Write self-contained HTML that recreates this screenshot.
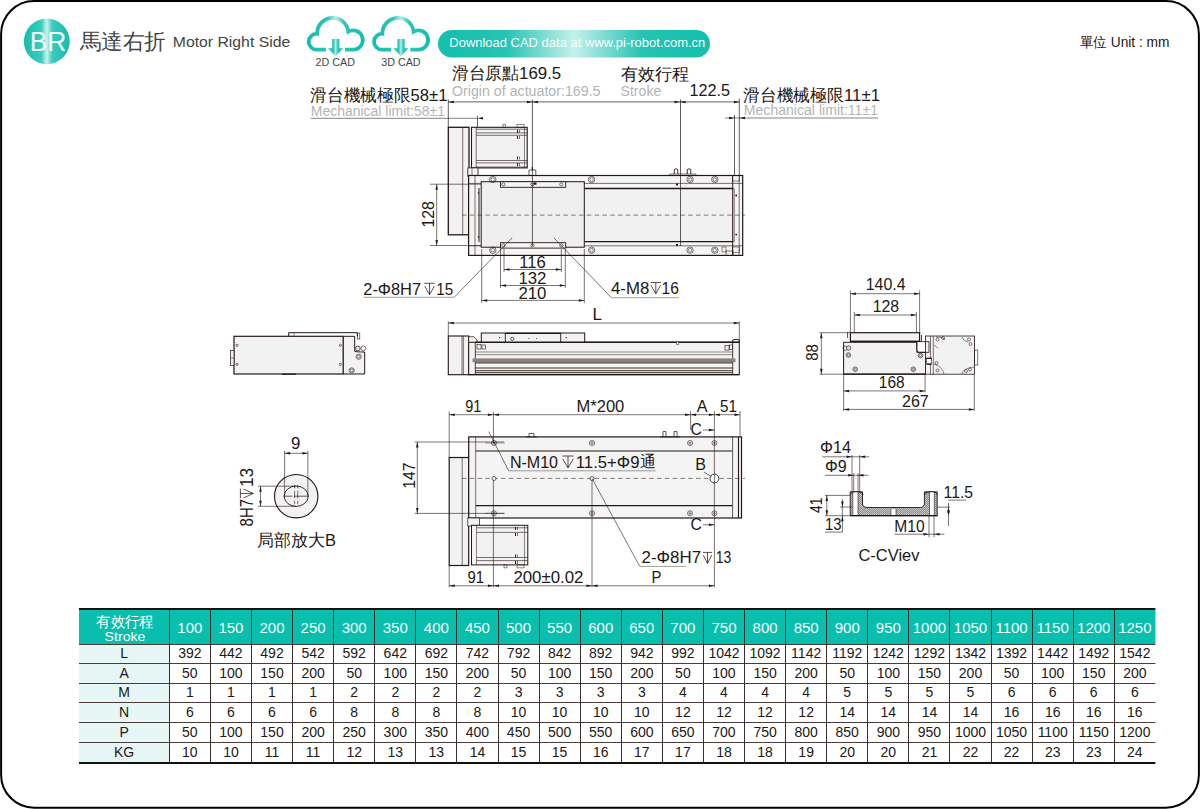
<!DOCTYPE html>
<html><head><meta charset="utf-8"><style>
html,body{margin:0;padding:0;background:#fff;}
body{width:1200px;height:809px;overflow:hidden;position:relative;font-family:"Liberation Sans",sans-serif;}
svg{position:absolute;left:0;top:0;}
</style></head><body>
<svg width="1200" height="809" viewBox="0 0 1200 809">
<defs>
<linearGradient id="tealH" x1="0" y1="0" x2="1" y2="0">
<stop offset="0" stop-color="#12bdac"/><stop offset="0.38" stop-color="#3ccbbd"/><stop offset="0.5" stop-color="#c8f3ee"/><stop offset="0.62" stop-color="#3ccbbd"/><stop offset="1" stop-color="#12bdac"/>
</linearGradient>
<linearGradient id="tealB" x1="0" y1="0" x2="1" y2="0">
<stop offset="0" stop-color="#14bead"/><stop offset="0.35" stop-color="#2cc6b6"/><stop offset="0.5" stop-color="#b8efe8"/><stop offset="0.65" stop-color="#2cc6b6"/><stop offset="1" stop-color="#14bead"/>
</linearGradient>
<linearGradient id="tealP" x1="0" y1="0" x2="1" y2="0">
<stop offset="0" stop-color="#14bead"/><stop offset="0.25" stop-color="#26c3b3"/><stop offset="0.5" stop-color="#c4f1eb"/><stop offset="0.75" stop-color="#26c3b3"/><stop offset="1" stop-color="#14bead"/>
</linearGradient>
<pattern id="hatch" width="2" height="2" patternUnits="userSpaceOnUse"><rect width="2" height="2" fill="#c4c4c4"/><path d="M0,2 L2,0" stroke="#6a6a6a" stroke-width="0.6"/></pattern>
</defs>
<rect x="1.1" y="1.1" width="1197.8" height="806.6" rx="33" ry="33" fill="none" stroke="#000" stroke-width="2.0"/>
<circle cx="46.8" cy="41.4" r="22.9" fill="url(#tealH)"/>
<text x="29.7" y="51.0" font-size="27" fill="#f4fffd" text-anchor="start" font-family="Liberation Sans" font-weight="normal" textLength="36.6" lengthAdjust="spacingAndGlyphs" >BR</text>
<text x="79.5" y="48.6" font-size="21.5" fill="#444" text-anchor="start" font-family="Liberation Sans" font-weight="normal" textLength="86.3" lengthAdjust="spacingAndGlyphs" >馬達右折</text>
<text x="172.8" y="47.2" font-size="13.8" fill="#444" text-anchor="start" font-family="Liberation Sans" font-weight="normal" textLength="117.4" lengthAdjust="spacingAndGlyphs" >Motor Right Side</text>
<g transform="translate(300,10) scale(0.125)">
<path d="M207,317 H133.5 A63.5,63.5 0 1 1 137,190.1 A125,125 0 0 1 386.2,173.5 A77,77 0 1 1 425,317 H360" fill="none" stroke="url(#tealB)" stroke-width="30"/>
<path d="M257,232 H315 V305 H345 L285,370 L225,305 H257 Z" fill="url(#tealB)"/>
</g>
<g transform="translate(365.3,10) scale(0.125)">
<path d="M207,317 H133.5 A63.5,63.5 0 1 1 137,190.1 A125,125 0 0 1 386.2,173.5 A77,77 0 1 1 425,317 H360" fill="none" stroke="url(#tealB)" stroke-width="30"/>
<path d="M257,232 H315 V305 H345 L285,370 L225,305 H257 Z" fill="url(#tealB)"/>
</g>
<text x="315.6" y="65.6" font-size="10" fill="#444" text-anchor="start" font-family="Liberation Sans" font-weight="normal" textLength="39.4" lengthAdjust="spacingAndGlyphs" >2D CAD</text>
<text x="381.2" y="65.6" font-size="10" fill="#444" text-anchor="start" font-family="Liberation Sans" font-weight="normal" textLength="39.4" lengthAdjust="spacingAndGlyphs" >3D CAD</text>
<rect x="438" y="30.0" width="272" height="27.6" rx="13.8" ry="13.8" fill="url(#tealP)"/>
<text x="449.3" y="47.1" font-size="13.3" fill="#f6fffd" text-anchor="start" font-family="Liberation Sans" font-weight="normal" textLength="256" lengthAdjust="spacingAndGlyphs" >Download CAD data at www.pi-robot.com.cn</text>
<text x="1080" y="46.9" font-size="14.3" fill="#231815" text-anchor="start" font-family="Liberation Sans" font-weight="normal" textLength="89.5" lengthAdjust="spacingAndGlyphs" >單位 Unit : mm</text>
<rect x="79.0" y="610" width="1076.4" height="34.10000000000002" fill="#08bfad"/>
<rect x="79.0" y="644.1" width="90.30000000000001" height="118.69999999999993" fill="#e6f6f4"/>
<line x1="79.0" y1="609.0" x2="1155.4" y2="609.0" stroke="#111" stroke-width="2.0" />
<line x1="79.0" y1="644.5" x2="1155.4" y2="644.5" stroke="#4a3c3a" stroke-width="1.0" />
<line x1="79.0" y1="663.5" x2="1155.4" y2="663.5" stroke="#4a3c3a" stroke-width="1.0" />
<line x1="79.0" y1="683.5" x2="1155.4" y2="683.5" stroke="#4a3c3a" stroke-width="1.0" />
<line x1="79.0" y1="702.5" x2="1155.4" y2="702.5" stroke="#4a3c3a" stroke-width="1.0" />
<line x1="79.0" y1="722.5" x2="1155.4" y2="722.5" stroke="#4a3c3a" stroke-width="1.0" />
<line x1="79.0" y1="742.5" x2="1155.4" y2="742.5" stroke="#4a3c3a" stroke-width="1.0" />
<line x1="79.0" y1="763.0" x2="1155.4" y2="763.0" stroke="#111" stroke-width="2.0" />
<line x1="169.5" y1="610" x2="169.5" y2="762.8" stroke="#3a2e2c" stroke-width="1.0" />
<line x1="210.5" y1="610" x2="210.5" y2="762.8" stroke="#3a2e2c" stroke-width="1.0" />
<line x1="251.5" y1="610" x2="251.5" y2="762.8" stroke="#3a2e2c" stroke-width="1.0" />
<line x1="292.5" y1="610" x2="292.5" y2="762.8" stroke="#3a2e2c" stroke-width="1.0" />
<line x1="333.5" y1="610" x2="333.5" y2="762.8" stroke="#3a2e2c" stroke-width="1.0" />
<line x1="374.5" y1="610" x2="374.5" y2="762.8" stroke="#3a2e2c" stroke-width="1.0" />
<line x1="415.5" y1="610" x2="415.5" y2="762.8" stroke="#3a2e2c" stroke-width="1.0" />
<line x1="456.5" y1="610" x2="456.5" y2="762.8" stroke="#3a2e2c" stroke-width="1.0" />
<line x1="498.5" y1="610" x2="498.5" y2="762.8" stroke="#3a2e2c" stroke-width="1.0" />
<line x1="539.5" y1="610" x2="539.5" y2="762.8" stroke="#3a2e2c" stroke-width="1.0" />
<line x1="580.5" y1="610" x2="580.5" y2="762.8" stroke="#3a2e2c" stroke-width="1.0" />
<line x1="621.5" y1="610" x2="621.5" y2="762.8" stroke="#3a2e2c" stroke-width="1.0" />
<line x1="662.5" y1="610" x2="662.5" y2="762.8" stroke="#3a2e2c" stroke-width="1.0" />
<line x1="703.5" y1="610" x2="703.5" y2="762.8" stroke="#3a2e2c" stroke-width="1.0" />
<line x1="744.5" y1="610" x2="744.5" y2="762.8" stroke="#3a2e2c" stroke-width="1.0" />
<line x1="785.5" y1="610" x2="785.5" y2="762.8" stroke="#3a2e2c" stroke-width="1.0" />
<line x1="826.5" y1="610" x2="826.5" y2="762.8" stroke="#3a2e2c" stroke-width="1.0" />
<line x1="867.5" y1="610" x2="867.5" y2="762.8" stroke="#3a2e2c" stroke-width="1.0" />
<line x1="908.5" y1="610" x2="908.5" y2="762.8" stroke="#3a2e2c" stroke-width="1.0" />
<line x1="949.5" y1="610" x2="949.5" y2="762.8" stroke="#3a2e2c" stroke-width="1.0" />
<line x1="991.5" y1="610" x2="991.5" y2="762.8" stroke="#3a2e2c" stroke-width="1.0" />
<line x1="1032.5" y1="610" x2="1032.5" y2="762.8" stroke="#3a2e2c" stroke-width="1.0" />
<line x1="1073.5" y1="610" x2="1073.5" y2="762.8" stroke="#3a2e2c" stroke-width="1.0" />
<line x1="1114.5" y1="610" x2="1114.5" y2="762.8" stroke="#3a2e2c" stroke-width="1.0" />
<text x="96.4" y="626.8" font-size="14.5" fill="#fff" text-anchor="start" font-family="Liberation Sans" font-weight="normal" textLength="57.2" lengthAdjust="spacingAndGlyphs" >有效行程</text>
<text x="104.6" y="641.2" font-size="13.5" fill="#fff" text-anchor="start" font-family="Liberation Sans" font-weight="normal" textLength="40.8" lengthAdjust="spacingAndGlyphs" >Stroke</text>
<text x="189.84" y="632.7" font-size="15" fill="#f4fffd" text-anchor="middle" font-family="Liberation Sans" font-weight="normal" >100</text>
<text x="230.93" y="632.7" font-size="15" fill="#f4fffd" text-anchor="middle" font-family="Liberation Sans" font-weight="normal" >150</text>
<text x="272.02" y="632.7" font-size="15" fill="#f4fffd" text-anchor="middle" font-family="Liberation Sans" font-weight="normal" >200</text>
<text x="313.11" y="632.7" font-size="15" fill="#f4fffd" text-anchor="middle" font-family="Liberation Sans" font-weight="normal" >250</text>
<text x="354.19" y="632.7" font-size="15" fill="#f4fffd" text-anchor="middle" font-family="Liberation Sans" font-weight="normal" >300</text>
<text x="395.28" y="632.7" font-size="15" fill="#f4fffd" text-anchor="middle" font-family="Liberation Sans" font-weight="normal" >350</text>
<text x="436.37" y="632.7" font-size="15" fill="#f4fffd" text-anchor="middle" font-family="Liberation Sans" font-weight="normal" >400</text>
<text x="477.46" y="632.7" font-size="15" fill="#f4fffd" text-anchor="middle" font-family="Liberation Sans" font-weight="normal" >450</text>
<text x="518.54" y="632.7" font-size="15" fill="#f4fffd" text-anchor="middle" font-family="Liberation Sans" font-weight="normal" >500</text>
<text x="559.63" y="632.7" font-size="15" fill="#f4fffd" text-anchor="middle" font-family="Liberation Sans" font-weight="normal" >550</text>
<text x="600.72" y="632.7" font-size="15" fill="#f4fffd" text-anchor="middle" font-family="Liberation Sans" font-weight="normal" >600</text>
<text x="641.81" y="632.7" font-size="15" fill="#f4fffd" text-anchor="middle" font-family="Liberation Sans" font-weight="normal" >650</text>
<text x="682.89" y="632.7" font-size="15" fill="#f4fffd" text-anchor="middle" font-family="Liberation Sans" font-weight="normal" >700</text>
<text x="723.98" y="632.7" font-size="15" fill="#f4fffd" text-anchor="middle" font-family="Liberation Sans" font-weight="normal" >750</text>
<text x="765.07" y="632.7" font-size="15" fill="#f4fffd" text-anchor="middle" font-family="Liberation Sans" font-weight="normal" >800</text>
<text x="806.16" y="632.7" font-size="15" fill="#f4fffd" text-anchor="middle" font-family="Liberation Sans" font-weight="normal" >850</text>
<text x="847.24" y="632.7" font-size="15" fill="#f4fffd" text-anchor="middle" font-family="Liberation Sans" font-weight="normal" >900</text>
<text x="888.33" y="632.7" font-size="15" fill="#f4fffd" text-anchor="middle" font-family="Liberation Sans" font-weight="normal" >950</text>
<text x="929.42" y="632.7" font-size="15" fill="#f4fffd" text-anchor="middle" font-family="Liberation Sans" font-weight="normal" >1000</text>
<text x="970.51" y="632.7" font-size="15" fill="#f4fffd" text-anchor="middle" font-family="Liberation Sans" font-weight="normal" >1050</text>
<text x="1011.59" y="632.7" font-size="15" fill="#f4fffd" text-anchor="middle" font-family="Liberation Sans" font-weight="normal" >1100</text>
<text x="1052.68" y="632.7" font-size="15" fill="#f4fffd" text-anchor="middle" font-family="Liberation Sans" font-weight="normal" >1150</text>
<text x="1093.77" y="632.7" font-size="15" fill="#f4fffd" text-anchor="middle" font-family="Liberation Sans" font-weight="normal" >1200</text>
<text x="1134.86" y="632.7" font-size="15" fill="#f4fffd" text-anchor="middle" font-family="Liberation Sans" font-weight="normal" >1250</text>
<text x="124.15" y="658.1" font-size="14" fill="#231815" text-anchor="middle" font-family="Liberation Sans" font-weight="normal" >L</text>
<text x="189.84" y="658.1" font-size="14" fill="#231815" text-anchor="middle" font-family="Liberation Sans" font-weight="normal" >392</text>
<text x="230.93" y="658.1" font-size="14" fill="#231815" text-anchor="middle" font-family="Liberation Sans" font-weight="normal" >442</text>
<text x="272.02" y="658.1" font-size="14" fill="#231815" text-anchor="middle" font-family="Liberation Sans" font-weight="normal" >492</text>
<text x="313.11" y="658.1" font-size="14" fill="#231815" text-anchor="middle" font-family="Liberation Sans" font-weight="normal" >542</text>
<text x="354.19" y="658.1" font-size="14" fill="#231815" text-anchor="middle" font-family="Liberation Sans" font-weight="normal" >592</text>
<text x="395.28" y="658.1" font-size="14" fill="#231815" text-anchor="middle" font-family="Liberation Sans" font-weight="normal" >642</text>
<text x="436.37" y="658.1" font-size="14" fill="#231815" text-anchor="middle" font-family="Liberation Sans" font-weight="normal" >692</text>
<text x="477.46" y="658.1" font-size="14" fill="#231815" text-anchor="middle" font-family="Liberation Sans" font-weight="normal" >742</text>
<text x="518.54" y="658.1" font-size="14" fill="#231815" text-anchor="middle" font-family="Liberation Sans" font-weight="normal" >792</text>
<text x="559.63" y="658.1" font-size="14" fill="#231815" text-anchor="middle" font-family="Liberation Sans" font-weight="normal" >842</text>
<text x="600.72" y="658.1" font-size="14" fill="#231815" text-anchor="middle" font-family="Liberation Sans" font-weight="normal" >892</text>
<text x="641.81" y="658.1" font-size="14" fill="#231815" text-anchor="middle" font-family="Liberation Sans" font-weight="normal" >942</text>
<text x="682.89" y="658.1" font-size="14" fill="#231815" text-anchor="middle" font-family="Liberation Sans" font-weight="normal" >992</text>
<text x="723.98" y="658.1" font-size="14" fill="#231815" text-anchor="middle" font-family="Liberation Sans" font-weight="normal" >1042</text>
<text x="765.07" y="658.1" font-size="14" fill="#231815" text-anchor="middle" font-family="Liberation Sans" font-weight="normal" >1092</text>
<text x="806.16" y="658.1" font-size="14" fill="#231815" text-anchor="middle" font-family="Liberation Sans" font-weight="normal" >1142</text>
<text x="847.24" y="658.1" font-size="14" fill="#231815" text-anchor="middle" font-family="Liberation Sans" font-weight="normal" >1192</text>
<text x="888.33" y="658.1" font-size="14" fill="#231815" text-anchor="middle" font-family="Liberation Sans" font-weight="normal" >1242</text>
<text x="929.42" y="658.1" font-size="14" fill="#231815" text-anchor="middle" font-family="Liberation Sans" font-weight="normal" >1292</text>
<text x="970.51" y="658.1" font-size="14" fill="#231815" text-anchor="middle" font-family="Liberation Sans" font-weight="normal" >1342</text>
<text x="1011.59" y="658.1" font-size="14" fill="#231815" text-anchor="middle" font-family="Liberation Sans" font-weight="normal" >1392</text>
<text x="1052.68" y="658.1" font-size="14" fill="#231815" text-anchor="middle" font-family="Liberation Sans" font-weight="normal" >1442</text>
<text x="1093.77" y="658.1" font-size="14" fill="#231815" text-anchor="middle" font-family="Liberation Sans" font-weight="normal" >1492</text>
<text x="1134.86" y="658.1" font-size="14" fill="#231815" text-anchor="middle" font-family="Liberation Sans" font-weight="normal" >1542</text>
<text x="124.15" y="677.7" font-size="14" fill="#231815" text-anchor="middle" font-family="Liberation Sans" font-weight="normal" >A</text>
<text x="189.84" y="677.7" font-size="14" fill="#231815" text-anchor="middle" font-family="Liberation Sans" font-weight="normal" >50</text>
<text x="230.93" y="677.7" font-size="14" fill="#231815" text-anchor="middle" font-family="Liberation Sans" font-weight="normal" >100</text>
<text x="272.02" y="677.7" font-size="14" fill="#231815" text-anchor="middle" font-family="Liberation Sans" font-weight="normal" >150</text>
<text x="313.11" y="677.7" font-size="14" fill="#231815" text-anchor="middle" font-family="Liberation Sans" font-weight="normal" >200</text>
<text x="354.19" y="677.7" font-size="14" fill="#231815" text-anchor="middle" font-family="Liberation Sans" font-weight="normal" >50</text>
<text x="395.28" y="677.7" font-size="14" fill="#231815" text-anchor="middle" font-family="Liberation Sans" font-weight="normal" >100</text>
<text x="436.37" y="677.7" font-size="14" fill="#231815" text-anchor="middle" font-family="Liberation Sans" font-weight="normal" >150</text>
<text x="477.46" y="677.7" font-size="14" fill="#231815" text-anchor="middle" font-family="Liberation Sans" font-weight="normal" >200</text>
<text x="518.54" y="677.7" font-size="14" fill="#231815" text-anchor="middle" font-family="Liberation Sans" font-weight="normal" >50</text>
<text x="559.63" y="677.7" font-size="14" fill="#231815" text-anchor="middle" font-family="Liberation Sans" font-weight="normal" >100</text>
<text x="600.72" y="677.7" font-size="14" fill="#231815" text-anchor="middle" font-family="Liberation Sans" font-weight="normal" >150</text>
<text x="641.81" y="677.7" font-size="14" fill="#231815" text-anchor="middle" font-family="Liberation Sans" font-weight="normal" >200</text>
<text x="682.89" y="677.7" font-size="14" fill="#231815" text-anchor="middle" font-family="Liberation Sans" font-weight="normal" >50</text>
<text x="723.98" y="677.7" font-size="14" fill="#231815" text-anchor="middle" font-family="Liberation Sans" font-weight="normal" >100</text>
<text x="765.07" y="677.7" font-size="14" fill="#231815" text-anchor="middle" font-family="Liberation Sans" font-weight="normal" >150</text>
<text x="806.16" y="677.7" font-size="14" fill="#231815" text-anchor="middle" font-family="Liberation Sans" font-weight="normal" >200</text>
<text x="847.24" y="677.7" font-size="14" fill="#231815" text-anchor="middle" font-family="Liberation Sans" font-weight="normal" >50</text>
<text x="888.33" y="677.7" font-size="14" fill="#231815" text-anchor="middle" font-family="Liberation Sans" font-weight="normal" >100</text>
<text x="929.42" y="677.7" font-size="14" fill="#231815" text-anchor="middle" font-family="Liberation Sans" font-weight="normal" >150</text>
<text x="970.51" y="677.7" font-size="14" fill="#231815" text-anchor="middle" font-family="Liberation Sans" font-weight="normal" >200</text>
<text x="1011.59" y="677.7" font-size="14" fill="#231815" text-anchor="middle" font-family="Liberation Sans" font-weight="normal" >50</text>
<text x="1052.68" y="677.7" font-size="14" fill="#231815" text-anchor="middle" font-family="Liberation Sans" font-weight="normal" >100</text>
<text x="1093.77" y="677.7" font-size="14" fill="#231815" text-anchor="middle" font-family="Liberation Sans" font-weight="normal" >150</text>
<text x="1134.86" y="677.7" font-size="14" fill="#231815" text-anchor="middle" font-family="Liberation Sans" font-weight="normal" >200</text>
<text x="124.15" y="697.4" font-size="14" fill="#231815" text-anchor="middle" font-family="Liberation Sans" font-weight="normal" >M</text>
<text x="189.84" y="697.4" font-size="14" fill="#231815" text-anchor="middle" font-family="Liberation Sans" font-weight="normal" >1</text>
<text x="230.93" y="697.4" font-size="14" fill="#231815" text-anchor="middle" font-family="Liberation Sans" font-weight="normal" >1</text>
<text x="272.02" y="697.4" font-size="14" fill="#231815" text-anchor="middle" font-family="Liberation Sans" font-weight="normal" >1</text>
<text x="313.11" y="697.4" font-size="14" fill="#231815" text-anchor="middle" font-family="Liberation Sans" font-weight="normal" >1</text>
<text x="354.19" y="697.4" font-size="14" fill="#231815" text-anchor="middle" font-family="Liberation Sans" font-weight="normal" >2</text>
<text x="395.28" y="697.4" font-size="14" fill="#231815" text-anchor="middle" font-family="Liberation Sans" font-weight="normal" >2</text>
<text x="436.37" y="697.4" font-size="14" fill="#231815" text-anchor="middle" font-family="Liberation Sans" font-weight="normal" >2</text>
<text x="477.46" y="697.4" font-size="14" fill="#231815" text-anchor="middle" font-family="Liberation Sans" font-weight="normal" >2</text>
<text x="518.54" y="697.4" font-size="14" fill="#231815" text-anchor="middle" font-family="Liberation Sans" font-weight="normal" >3</text>
<text x="559.63" y="697.4" font-size="14" fill="#231815" text-anchor="middle" font-family="Liberation Sans" font-weight="normal" >3</text>
<text x="600.72" y="697.4" font-size="14" fill="#231815" text-anchor="middle" font-family="Liberation Sans" font-weight="normal" >3</text>
<text x="641.81" y="697.4" font-size="14" fill="#231815" text-anchor="middle" font-family="Liberation Sans" font-weight="normal" >3</text>
<text x="682.89" y="697.4" font-size="14" fill="#231815" text-anchor="middle" font-family="Liberation Sans" font-weight="normal" >4</text>
<text x="723.98" y="697.4" font-size="14" fill="#231815" text-anchor="middle" font-family="Liberation Sans" font-weight="normal" >4</text>
<text x="765.07" y="697.4" font-size="14" fill="#231815" text-anchor="middle" font-family="Liberation Sans" font-weight="normal" >4</text>
<text x="806.16" y="697.4" font-size="14" fill="#231815" text-anchor="middle" font-family="Liberation Sans" font-weight="normal" >4</text>
<text x="847.24" y="697.4" font-size="14" fill="#231815" text-anchor="middle" font-family="Liberation Sans" font-weight="normal" >5</text>
<text x="888.33" y="697.4" font-size="14" fill="#231815" text-anchor="middle" font-family="Liberation Sans" font-weight="normal" >5</text>
<text x="929.42" y="697.4" font-size="14" fill="#231815" text-anchor="middle" font-family="Liberation Sans" font-weight="normal" >5</text>
<text x="970.51" y="697.4" font-size="14" fill="#231815" text-anchor="middle" font-family="Liberation Sans" font-weight="normal" >5</text>
<text x="1011.59" y="697.4" font-size="14" fill="#231815" text-anchor="middle" font-family="Liberation Sans" font-weight="normal" >6</text>
<text x="1052.68" y="697.4" font-size="14" fill="#231815" text-anchor="middle" font-family="Liberation Sans" font-weight="normal" >6</text>
<text x="1093.77" y="697.4" font-size="14" fill="#231815" text-anchor="middle" font-family="Liberation Sans" font-weight="normal" >6</text>
<text x="1134.86" y="697.4" font-size="14" fill="#231815" text-anchor="middle" font-family="Liberation Sans" font-weight="normal" >6</text>
<text x="124.15" y="716.9" font-size="14" fill="#231815" text-anchor="middle" font-family="Liberation Sans" font-weight="normal" >N</text>
<text x="189.84" y="716.9" font-size="14" fill="#231815" text-anchor="middle" font-family="Liberation Sans" font-weight="normal" >6</text>
<text x="230.93" y="716.9" font-size="14" fill="#231815" text-anchor="middle" font-family="Liberation Sans" font-weight="normal" >6</text>
<text x="272.02" y="716.9" font-size="14" fill="#231815" text-anchor="middle" font-family="Liberation Sans" font-weight="normal" >6</text>
<text x="313.11" y="716.9" font-size="14" fill="#231815" text-anchor="middle" font-family="Liberation Sans" font-weight="normal" >6</text>
<text x="354.19" y="716.9" font-size="14" fill="#231815" text-anchor="middle" font-family="Liberation Sans" font-weight="normal" >8</text>
<text x="395.28" y="716.9" font-size="14" fill="#231815" text-anchor="middle" font-family="Liberation Sans" font-weight="normal" >8</text>
<text x="436.37" y="716.9" font-size="14" fill="#231815" text-anchor="middle" font-family="Liberation Sans" font-weight="normal" >8</text>
<text x="477.46" y="716.9" font-size="14" fill="#231815" text-anchor="middle" font-family="Liberation Sans" font-weight="normal" >8</text>
<text x="518.54" y="716.9" font-size="14" fill="#231815" text-anchor="middle" font-family="Liberation Sans" font-weight="normal" >10</text>
<text x="559.63" y="716.9" font-size="14" fill="#231815" text-anchor="middle" font-family="Liberation Sans" font-weight="normal" >10</text>
<text x="600.72" y="716.9" font-size="14" fill="#231815" text-anchor="middle" font-family="Liberation Sans" font-weight="normal" >10</text>
<text x="641.81" y="716.9" font-size="14" fill="#231815" text-anchor="middle" font-family="Liberation Sans" font-weight="normal" >10</text>
<text x="682.89" y="716.9" font-size="14" fill="#231815" text-anchor="middle" font-family="Liberation Sans" font-weight="normal" >12</text>
<text x="723.98" y="716.9" font-size="14" fill="#231815" text-anchor="middle" font-family="Liberation Sans" font-weight="normal" >12</text>
<text x="765.07" y="716.9" font-size="14" fill="#231815" text-anchor="middle" font-family="Liberation Sans" font-weight="normal" >12</text>
<text x="806.16" y="716.9" font-size="14" fill="#231815" text-anchor="middle" font-family="Liberation Sans" font-weight="normal" >12</text>
<text x="847.24" y="716.9" font-size="14" fill="#231815" text-anchor="middle" font-family="Liberation Sans" font-weight="normal" >14</text>
<text x="888.33" y="716.9" font-size="14" fill="#231815" text-anchor="middle" font-family="Liberation Sans" font-weight="normal" >14</text>
<text x="929.42" y="716.9" font-size="14" fill="#231815" text-anchor="middle" font-family="Liberation Sans" font-weight="normal" >14</text>
<text x="970.51" y="716.9" font-size="14" fill="#231815" text-anchor="middle" font-family="Liberation Sans" font-weight="normal" >14</text>
<text x="1011.59" y="716.9" font-size="14" fill="#231815" text-anchor="middle" font-family="Liberation Sans" font-weight="normal" >16</text>
<text x="1052.68" y="716.9" font-size="14" fill="#231815" text-anchor="middle" font-family="Liberation Sans" font-weight="normal" >16</text>
<text x="1093.77" y="716.9" font-size="14" fill="#231815" text-anchor="middle" font-family="Liberation Sans" font-weight="normal" >16</text>
<text x="1134.86" y="716.9" font-size="14" fill="#231815" text-anchor="middle" font-family="Liberation Sans" font-weight="normal" >16</text>
<text x="124.15" y="736.9" font-size="14" fill="#231815" text-anchor="middle" font-family="Liberation Sans" font-weight="normal" >P</text>
<text x="189.84" y="736.9" font-size="14" fill="#231815" text-anchor="middle" font-family="Liberation Sans" font-weight="normal" >50</text>
<text x="230.93" y="736.9" font-size="14" fill="#231815" text-anchor="middle" font-family="Liberation Sans" font-weight="normal" >100</text>
<text x="272.02" y="736.9" font-size="14" fill="#231815" text-anchor="middle" font-family="Liberation Sans" font-weight="normal" >150</text>
<text x="313.11" y="736.9" font-size="14" fill="#231815" text-anchor="middle" font-family="Liberation Sans" font-weight="normal" >200</text>
<text x="354.19" y="736.9" font-size="14" fill="#231815" text-anchor="middle" font-family="Liberation Sans" font-weight="normal" >250</text>
<text x="395.28" y="736.9" font-size="14" fill="#231815" text-anchor="middle" font-family="Liberation Sans" font-weight="normal" >300</text>
<text x="436.37" y="736.9" font-size="14" fill="#231815" text-anchor="middle" font-family="Liberation Sans" font-weight="normal" >350</text>
<text x="477.46" y="736.9" font-size="14" fill="#231815" text-anchor="middle" font-family="Liberation Sans" font-weight="normal" >400</text>
<text x="518.54" y="736.9" font-size="14" fill="#231815" text-anchor="middle" font-family="Liberation Sans" font-weight="normal" >450</text>
<text x="559.63" y="736.9" font-size="14" fill="#231815" text-anchor="middle" font-family="Liberation Sans" font-weight="normal" >500</text>
<text x="600.72" y="736.9" font-size="14" fill="#231815" text-anchor="middle" font-family="Liberation Sans" font-weight="normal" >550</text>
<text x="641.81" y="736.9" font-size="14" fill="#231815" text-anchor="middle" font-family="Liberation Sans" font-weight="normal" >600</text>
<text x="682.89" y="736.9" font-size="14" fill="#231815" text-anchor="middle" font-family="Liberation Sans" font-weight="normal" >650</text>
<text x="723.98" y="736.9" font-size="14" fill="#231815" text-anchor="middle" font-family="Liberation Sans" font-weight="normal" >700</text>
<text x="765.07" y="736.9" font-size="14" fill="#231815" text-anchor="middle" font-family="Liberation Sans" font-weight="normal" >750</text>
<text x="806.16" y="736.9" font-size="14" fill="#231815" text-anchor="middle" font-family="Liberation Sans" font-weight="normal" >800</text>
<text x="847.24" y="736.9" font-size="14" fill="#231815" text-anchor="middle" font-family="Liberation Sans" font-weight="normal" >850</text>
<text x="888.33" y="736.9" font-size="14" fill="#231815" text-anchor="middle" font-family="Liberation Sans" font-weight="normal" >900</text>
<text x="929.42" y="736.9" font-size="14" fill="#231815" text-anchor="middle" font-family="Liberation Sans" font-weight="normal" >950</text>
<text x="970.51" y="736.9" font-size="14" fill="#231815" text-anchor="middle" font-family="Liberation Sans" font-weight="normal" >1000</text>
<text x="1011.59" y="736.9" font-size="14" fill="#231815" text-anchor="middle" font-family="Liberation Sans" font-weight="normal" >1050</text>
<text x="1052.68" y="736.9" font-size="14" fill="#231815" text-anchor="middle" font-family="Liberation Sans" font-weight="normal" >1100</text>
<text x="1093.77" y="736.9" font-size="14" fill="#231815" text-anchor="middle" font-family="Liberation Sans" font-weight="normal" >1150</text>
<text x="1134.86" y="736.9" font-size="14" fill="#231815" text-anchor="middle" font-family="Liberation Sans" font-weight="normal" >1200</text>
<text x="124.15" y="756.9" font-size="14" fill="#231815" text-anchor="middle" font-family="Liberation Sans" font-weight="normal" >KG</text>
<text x="189.84" y="756.9" font-size="14" fill="#231815" text-anchor="middle" font-family="Liberation Sans" font-weight="normal" >10</text>
<text x="230.93" y="756.9" font-size="14" fill="#231815" text-anchor="middle" font-family="Liberation Sans" font-weight="normal" >10</text>
<text x="272.02" y="756.9" font-size="14" fill="#231815" text-anchor="middle" font-family="Liberation Sans" font-weight="normal" >11</text>
<text x="313.11" y="756.9" font-size="14" fill="#231815" text-anchor="middle" font-family="Liberation Sans" font-weight="normal" >11</text>
<text x="354.19" y="756.9" font-size="14" fill="#231815" text-anchor="middle" font-family="Liberation Sans" font-weight="normal" >12</text>
<text x="395.28" y="756.9" font-size="14" fill="#231815" text-anchor="middle" font-family="Liberation Sans" font-weight="normal" >13</text>
<text x="436.37" y="756.9" font-size="14" fill="#231815" text-anchor="middle" font-family="Liberation Sans" font-weight="normal" >13</text>
<text x="477.46" y="756.9" font-size="14" fill="#231815" text-anchor="middle" font-family="Liberation Sans" font-weight="normal" >14</text>
<text x="518.54" y="756.9" font-size="14" fill="#231815" text-anchor="middle" font-family="Liberation Sans" font-weight="normal" >15</text>
<text x="559.63" y="756.9" font-size="14" fill="#231815" text-anchor="middle" font-family="Liberation Sans" font-weight="normal" >15</text>
<text x="600.72" y="756.9" font-size="14" fill="#231815" text-anchor="middle" font-family="Liberation Sans" font-weight="normal" >16</text>
<text x="641.81" y="756.9" font-size="14" fill="#231815" text-anchor="middle" font-family="Liberation Sans" font-weight="normal" >17</text>
<text x="682.89" y="756.9" font-size="14" fill="#231815" text-anchor="middle" font-family="Liberation Sans" font-weight="normal" >17</text>
<text x="723.98" y="756.9" font-size="14" fill="#231815" text-anchor="middle" font-family="Liberation Sans" font-weight="normal" >18</text>
<text x="765.07" y="756.9" font-size="14" fill="#231815" text-anchor="middle" font-family="Liberation Sans" font-weight="normal" >18</text>
<text x="806.16" y="756.9" font-size="14" fill="#231815" text-anchor="middle" font-family="Liberation Sans" font-weight="normal" >19</text>
<text x="847.24" y="756.9" font-size="14" fill="#231815" text-anchor="middle" font-family="Liberation Sans" font-weight="normal" >20</text>
<text x="888.33" y="756.9" font-size="14" fill="#231815" text-anchor="middle" font-family="Liberation Sans" font-weight="normal" >20</text>
<text x="929.42" y="756.9" font-size="14" fill="#231815" text-anchor="middle" font-family="Liberation Sans" font-weight="normal" >21</text>
<text x="970.51" y="756.9" font-size="14" fill="#231815" text-anchor="middle" font-family="Liberation Sans" font-weight="normal" >22</text>
<text x="1011.59" y="756.9" font-size="14" fill="#231815" text-anchor="middle" font-family="Liberation Sans" font-weight="normal" >22</text>
<text x="1052.68" y="756.9" font-size="14" fill="#231815" text-anchor="middle" font-family="Liberation Sans" font-weight="normal" >23</text>
<text x="1093.77" y="756.9" font-size="14" fill="#231815" text-anchor="middle" font-family="Liberation Sans" font-weight="normal" >23</text>
<text x="1134.86" y="756.9" font-size="14" fill="#231815" text-anchor="middle" font-family="Liberation Sans" font-weight="normal" >24</text>
<text x="310.3" y="101.1" font-size="17" fill="#231815" text-anchor="start" font-family="Liberation Sans" font-weight="normal" textLength="137.2" lengthAdjust="spacingAndGlyphs" >滑台機械極限58±1</text>
<text x="310.8" y="115.8" font-size="13.8" fill="#b4b4b4" text-anchor="start" font-family="Liberation Sans" font-weight="normal" textLength="134.2" lengthAdjust="spacingAndGlyphs" >Mechanical limit:58±1</text>
<line x1="310.8" y1="118.3" x2="477.5" y2="118.3" stroke="#666" stroke-width="0.8" />
<text x="451.7" y="78.6" font-size="17" fill="#231815" text-anchor="start" font-family="Liberation Sans" font-weight="normal" textLength="109.5" lengthAdjust="spacingAndGlyphs" >滑台原點169.5</text>
<text x="452" y="95.8" font-size="13.8" fill="#b4b4b4" text-anchor="start" font-family="Liberation Sans" font-weight="normal" textLength="148.5" lengthAdjust="spacingAndGlyphs" >Origin of actuator:169.5</text>
<text x="620.5" y="79.6" font-size="17" fill="#231815" text-anchor="start" font-family="Liberation Sans" font-weight="normal" textLength="68.3" lengthAdjust="spacingAndGlyphs" >有效行程</text>
<text x="620.5" y="95.5" font-size="13.8" fill="#b4b4b4" text-anchor="start" font-family="Liberation Sans" font-weight="normal" textLength="40.8" lengthAdjust="spacingAndGlyphs" >Stroke</text>
<text x="689.5" y="95.75" font-size="16" fill="#231815" text-anchor="start" font-family="Liberation Sans" font-weight="normal" textLength="40.5" lengthAdjust="spacingAndGlyphs" >122.5</text>
<text x="743" y="100.9" font-size="17" fill="#231815" text-anchor="start" font-family="Liberation Sans" font-weight="normal" textLength="137" lengthAdjust="spacingAndGlyphs" >滑台機械極限11±1</text>
<text x="743.8" y="114.5" font-size="13.8" fill="#b4b4b4" text-anchor="start" font-family="Liberation Sans" font-weight="normal" textLength="134.2" lengthAdjust="spacingAndGlyphs" >Mechanical limit:11±1</text>
<line x1="725" y1="118.0" x2="878" y2="118.0" stroke="#666" stroke-width="0.8" />
<line x1="448.3" y1="101.9" x2="739.5" y2="101.9" stroke="#231815" stroke-width="0.7" />
<polygon points="448.3,101.9 453.8,100.65 453.8,103.15" fill="#231815"/>
<polygon points="532.4,101.9 526.9,100.65 526.9,103.15" fill="#231815"/>
<polygon points="532.4,101.9 537.9,100.65 537.9,103.15" fill="#231815"/>
<polygon points="680,101.9 674.5,100.65 674.5,103.15" fill="#231815"/>
<polygon points="680,101.9 685.5,100.65 685.5,103.15" fill="#231815"/>
<polygon points="739.5,101.9 734.0,100.65 734.0,103.15" fill="#231815"/>
<polygon points="477.5,118.3 483.0,117.05 483.0,119.55" fill="#231815"/>
<polygon points="734.5,118.0 729.0,116.75 729.0,119.25" fill="#231815"/>
<polygon points="739.5,118.0 745.0,116.75 745.0,119.25" fill="#231815"/>
<line x1="448.3" y1="99.5" x2="448.3" y2="127.3" stroke="#231815" stroke-width="0.7" />
<line x1="739.3" y1="98.5" x2="739.3" y2="175.5" stroke="#231815" stroke-width="0.7" />
<line x1="734.5" y1="115" x2="734.5" y2="175.5" stroke="#231815" stroke-width="0.7" />
<line x1="477.5" y1="115.8" x2="477.5" y2="127.3" stroke="#231815" stroke-width="0.7" />
<rect x="448.3" y="127.3" width="20.7" height="107.5" fill="#f2f2f2" stroke="#231815" stroke-width="1.3" />
<line x1="462.7" y1="127.3" x2="462.7" y2="234.8" stroke="#231815" stroke-width="0.6" />
<rect x="471.5" y="127.3" width="55.7" height="40.6" fill="#f2f2f2" stroke="#231815" stroke-width="1.1" />
<line x1="476.2" y1="127.3" x2="476.2" y2="167.9" stroke="#231815" stroke-width="0.6" />
<line x1="476.2" y1="129.2" x2="527.2" y2="129.2" stroke="#231815" stroke-width="0.6" />
<line x1="476.2" y1="132.9" x2="527.2" y2="132.9" stroke="#231815" stroke-width="0.6" />
<line x1="476.2" y1="135.3" x2="527.2" y2="135.3" stroke="#231815" stroke-width="0.6" />
<line x1="476.2" y1="160.5" x2="527.2" y2="160.5" stroke="#231815" stroke-width="0.6" />
<line x1="476.2" y1="162.9" x2="527.2" y2="162.9" stroke="#231815" stroke-width="0.6" />
<line x1="476.2" y1="167.0" x2="527.2" y2="167.0" stroke="#231815" stroke-width="0.6" />
<line x1="524.5" y1="127.3" x2="524.5" y2="167.9" stroke="#231815" stroke-width="0.5" />
<line x1="517.5" y1="130.0" x2="517.5" y2="133.0" stroke="#231815" stroke-width="1.0" />
<line x1="519.5" y1="130.0" x2="519.5" y2="133.0" stroke="#231815" stroke-width="0.6" />
<line x1="517.5" y1="136.0" x2="517.5" y2="139.0" stroke="#231815" stroke-width="1.0" />
<line x1="519.5" y1="136.0" x2="519.5" y2="139.0" stroke="#231815" stroke-width="0.6" />
<line x1="517.5" y1="156.5" x2="517.5" y2="159.5" stroke="#231815" stroke-width="1.0" />
<line x1="519.5" y1="156.5" x2="519.5" y2="159.5" stroke="#231815" stroke-width="0.6" />
<line x1="517.5" y1="163.0" x2="517.5" y2="166.0" stroke="#231815" stroke-width="1.0" />
<line x1="519.5" y1="163.0" x2="519.5" y2="166.0" stroke="#231815" stroke-width="0.6" />
<rect x="503" y="124.2" width="2.5" height="3.1" fill="none" stroke="#231815" stroke-width="0.5" />
<rect x="517" y="124.2" width="7" height="3.1" fill="none" stroke="#231815" stroke-width="0.5" />
<rect x="467.8" y="167.9" width="10.2" height="8.3" fill="#f2f2f2" stroke="#231815" stroke-width="0.8" />
<line x1="472" y1="167.9" x2="472" y2="176.2" stroke="#231815" stroke-width="0.5" />
<rect x="468.6" y="175.5" width="274.1" height="79.9" fill="#f5f5f5" stroke="#231815" stroke-width="1.2" />
<rect x="584.3" y="188.5" width="149.2" height="53.2" fill="#f1f1f1" stroke="#231815" stroke-width="0" />
<line x1="475.0" y1="175.5" x2="475.0" y2="255.4" stroke="#231815" stroke-width="0.6" />
<line x1="468.6" y1="183.4" x2="742.7" y2="183.4" stroke="#231815" stroke-width="0.6" />
<line x1="468.6" y1="245.8" x2="742.7" y2="245.8" stroke="#231815" stroke-width="0.6" />
<line x1="584.3" y1="188.5" x2="733.5" y2="188.5" stroke="#231815" stroke-width="1.3" />
<line x1="584.3" y1="241.7" x2="733.5" y2="241.7" stroke="#231815" stroke-width="1.3" />
<line x1="732.7" y1="175.5" x2="732.7" y2="255.4" stroke="#231815" stroke-width="1.0" />
<line x1="739.2" y1="175.5" x2="739.2" y2="255.4" stroke="#231815" stroke-width="0.6" />
<line x1="734.2" y1="188.5" x2="734.2" y2="241.7" stroke="#231815" stroke-width="0.6" />
<rect x="732.7" y="175.5" width="6.5" height="5.5" fill="none" stroke="#231815" stroke-width="0.5" />
<rect x="732.7" y="247" width="6.5" height="5.5" fill="none" stroke="#231815" stroke-width="0.5" />
<rect x="481.2" y="181.7" width="103.1" height="65.5" fill="#efefef" stroke="#231815" stroke-width="1.0" />
<rect x="500.5" y="181.7" width="65.2" height="5.6" fill="#f5f5f5" stroke="#231815" stroke-width="0.9" />
<rect x="500.5" y="242.7" width="65.2" height="5.4" fill="#f5f5f5" stroke="#231815" stroke-width="0.9" />
<circle cx="503.4" cy="184.4" r="1.6" fill="none" stroke="#231815" stroke-width="0.6"/>
<circle cx="503.4" cy="245.4" r="1.6" fill="none" stroke="#231815" stroke-width="0.6"/>
<circle cx="532.4" cy="184.4" r="1.6" fill="none" stroke="#231815" stroke-width="0.6"/>
<circle cx="532.4" cy="245.4" r="1.6" fill="none" stroke="#231815" stroke-width="0.6"/>
<circle cx="561.3" cy="184.4" r="1.6" fill="none" stroke="#231815" stroke-width="0.6"/>
<circle cx="561.3" cy="245.4" r="1.6" fill="none" stroke="#231815" stroke-width="0.6"/>
<circle cx="492.8" cy="179.5" r="3.2" fill="none" stroke="#231815" stroke-width="0.6"/>
<circle cx="492.8" cy="179.5" r="1.8" fill="none" stroke="#231815" stroke-width="0.5"/>
<circle cx="492.8" cy="250.2" r="3.2" fill="none" stroke="#231815" stroke-width="0.6"/>
<circle cx="492.8" cy="250.2" r="1.8" fill="none" stroke="#231815" stroke-width="0.5"/>
<circle cx="591.6" cy="179.5" r="3.2" fill="none" stroke="#231815" stroke-width="0.6"/>
<circle cx="591.6" cy="179.5" r="1.8" fill="none" stroke="#231815" stroke-width="0.5"/>
<circle cx="591.6" cy="250.2" r="3.2" fill="none" stroke="#231815" stroke-width="0.6"/>
<circle cx="591.6" cy="250.2" r="1.8" fill="none" stroke="#231815" stroke-width="0.5"/>
<circle cx="690.1" cy="179.5" r="3.2" fill="none" stroke="#231815" stroke-width="0.6"/>
<circle cx="690.1" cy="179.5" r="1.8" fill="none" stroke="#231815" stroke-width="0.5"/>
<circle cx="690.1" cy="250.2" r="3.2" fill="none" stroke="#231815" stroke-width="0.6"/>
<circle cx="690.1" cy="250.2" r="1.8" fill="none" stroke="#231815" stroke-width="0.5"/>
<circle cx="714.8" cy="179.5" r="3.2" fill="none" stroke="#231815" stroke-width="0.6"/>
<circle cx="714.8" cy="179.5" r="1.8" fill="none" stroke="#231815" stroke-width="0.5"/>
<circle cx="714.8" cy="250.2" r="3.2" fill="none" stroke="#231815" stroke-width="0.6"/>
<circle cx="714.8" cy="250.2" r="1.8" fill="none" stroke="#231815" stroke-width="0.5"/>
<rect x="722" y="247" width="4" height="5" fill="none" stroke="#231815" stroke-width="0.5" />
<rect x="726" y="251" width="7" height="4.5" fill="none" stroke="#231815" stroke-width="0.6" />
<line x1="479" y1="188" x2="479" y2="242" stroke="#231815" stroke-width="1.0" />
<circle cx="478.5" cy="193" r="0.8" fill="#231815" stroke="#231815" stroke-width="0"/>
<circle cx="478.5" cy="237" r="0.8" fill="#231815" stroke="#231815" stroke-width="0"/>
<circle cx="736.2" cy="195.5" r="0.9" fill="#231815" stroke="#231815" stroke-width="0"/>
<circle cx="736.2" cy="234.6" r="0.9" fill="#231815" stroke="#231815" stroke-width="0"/>
<path d="M529,175.5 V170 H535.8 V175.5" fill="none" stroke="#231815" stroke-width="0.7" />
<line x1="532.4" y1="167" x2="532.4" y2="170" stroke="#231815" stroke-width="1.2" />
<path d="M669.7,175.5 V174 H696 V175.5" fill="none" stroke="#231815" stroke-width="0.6" />
<path d="M674.3,174 V169.5 Q676,168 677.8,169.5 V174 M687.3,174 V169.5 Q689,168 690.8,169.5 V174" fill="none" stroke="#231815" stroke-width="0.9" />
<rect x="533.5" y="182.5" width="3" height="2.2" fill="#231815" stroke="#231815" stroke-width="0" />
<rect x="676" y="183.5" width="2" height="2" fill="#231815" stroke="#231815" stroke-width="0" />
<rect x="676" y="244" width="2" height="2" fill="#231815" stroke="#231815" stroke-width="0" />
<line x1="462" y1="215.1" x2="745" y2="215.1" stroke="#231815" stroke-width="0.55" stroke-dasharray="4.5,3.3"/>
<line x1="532.4" y1="99.5" x2="532.4" y2="246" stroke="#231815" stroke-width="0.7" />
<line x1="680.5" y1="99.5" x2="680.5" y2="246" stroke="#231815" stroke-width="0.7" />
<line x1="454.1" y1="297.3" x2="512.2" y2="237.8" stroke="#231815" stroke-width="0.6" />
<line x1="611.5" y1="297.7" x2="554" y2="238" stroke="#231815" stroke-width="0.6" />
<line x1="363.5" y1="297.3" x2="454.1" y2="297.3" stroke="#777" stroke-width="0.7" />
<line x1="611.5" y1="297.7" x2="679" y2="297.7" stroke="#777" stroke-width="0.7" />
<text x="363.3" y="294.7" font-size="16.3" fill="#231815" text-anchor="start" font-family="Liberation Sans" font-weight="normal" textLength="57.7" lengthAdjust="spacingAndGlyphs" >2-Φ8H7</text>
<path d="M424.3,283.3 H434.8 M429.55,283.3 V294.6 M424.72,286.125 L429.55,294.6 L434.38,286.125" fill="none" stroke="#231815" stroke-width="0.75" />
<text x="436.2" y="294.7" font-size="16.3" fill="#231815" text-anchor="start" font-family="Liberation Sans" font-weight="normal" textLength="17" lengthAdjust="spacingAndGlyphs" >15</text>
<text x="611.0" y="293.8" font-size="16.3" fill="#231815" text-anchor="start" font-family="Liberation Sans" font-weight="normal" textLength="38.3" lengthAdjust="spacingAndGlyphs" >4-M8</text>
<path d="M650.6,282.5 H661.0 M655.8000000000001,282.5 V293.8 M651.0160000000001,285.325 L655.8000000000001,293.8 L660.5840000000001,285.325" fill="none" stroke="#231815" stroke-width="0.75" />
<text x="661.6" y="293.8" font-size="16.3" fill="#231815" text-anchor="start" font-family="Liberation Sans" font-weight="normal" textLength="17.3" lengthAdjust="spacingAndGlyphs" >16</text>
<line x1="430" y1="184.2" x2="481" y2="184.2" stroke="#231815" stroke-width="0.6" />
<line x1="430" y1="245.5" x2="481" y2="245.5" stroke="#231815" stroke-width="0.6" />
<line x1="436.7" y1="184.2" x2="436.7" y2="245.5" stroke="#231815" stroke-width="0.6" />
<polygon points="436.7,184.2 435.45,189.7 437.95,189.7" fill="#231815"/>
<polygon points="436.7,245.5 435.45,240.0 437.95,240.0" fill="#231815"/>
<text x="0" y="0" font-size="16" fill="#231815" text-anchor="middle" dominant-baseline="central" font-family="Liberation Sans" transform="translate(428.0,214.3) rotate(-90)" textLength="26.5" lengthAdjust="spacingAndGlyphs">128</text>
<line x1="481.7" y1="249" x2="481.7" y2="303" stroke="#231815" stroke-width="0.6" />
<line x1="584.3" y1="249" x2="584.3" y2="303" stroke="#231815" stroke-width="0.6" />
<line x1="500.5" y1="249" x2="500.5" y2="288" stroke="#231815" stroke-width="0.6" />
<line x1="565.3" y1="249" x2="565.3" y2="288" stroke="#231815" stroke-width="0.6" />
<line x1="504.0" y1="249" x2="504.0" y2="272" stroke="#231815" stroke-width="0.6" />
<line x1="561.3" y1="249" x2="561.3" y2="272" stroke="#231815" stroke-width="0.6" />
<line x1="504.0" y1="269.5" x2="561.3" y2="269.5" stroke="#231815" stroke-width="0.6" />
<polygon points="504.0,269.5 509.5,268.25 509.5,270.75" fill="#231815"/>
<polygon points="561.3,269.5 555.8,268.25 555.8,270.75" fill="#231815"/>
<line x1="500.5" y1="285.5" x2="565.3" y2="285.5" stroke="#231815" stroke-width="0.6" />
<polygon points="500.5,285.5 506.0,284.25 506.0,286.75" fill="#231815"/>
<polygon points="565.3,285.5 559.8,284.25 559.8,286.75" fill="#231815"/>
<line x1="481.7" y1="300.4" x2="584.3" y2="300.4" stroke="#231815" stroke-width="0.6" />
<polygon points="481.7,300.4 487.2,299.15 487.2,301.65" fill="#231815"/>
<polygon points="584.3,300.4 578.8,299.15 578.8,301.65" fill="#231815"/>
<text x="532.4" y="268.3" font-size="16" fill="#231815" text-anchor="middle" font-family="Liberation Sans" font-weight="normal" textLength="26.5" lengthAdjust="spacingAndGlyphs" >116</text>
<text x="532.4" y="284.0" font-size="16" fill="#231815" text-anchor="middle" font-family="Liberation Sans" font-weight="normal" textLength="28" lengthAdjust="spacingAndGlyphs" >132</text>
<text x="532.4" y="299.1" font-size="16" fill="#231815" text-anchor="middle" font-family="Liberation Sans" font-weight="normal" textLength="28" lengthAdjust="spacingAndGlyphs" >210</text>
<rect x="234" y="336.3" width="109.3" height="37.7" fill="#f2f2f2" stroke="#231815" stroke-width="1.2" />
<rect x="230.4" y="350.4" width="3.6" height="15.2" fill="#f2f2f2" stroke="#231815" stroke-width="0.7" />
<line x1="230.4" y1="358" x2="234" y2="358" stroke="#231815" stroke-width="0.5" />
<path d="M288.7,336.3 V332.7 H357.3 V336.3" fill="none" stroke="#231815" stroke-width="1.0" />
<line x1="294" y1="332.7" x2="294" y2="336.3" stroke="#231815" stroke-width="0.5" />
<path d="M343.3,336.3 H354.7 V351.3 Q356,352 364.7,352 V374 H343.3" fill="#f2f2f2" stroke="#231815" stroke-width="1.0" />
<line x1="343.3" y1="336.3" x2="343.3" y2="374" stroke="#231815" stroke-width="1.0" />
<circle cx="237" cy="345.3" r="1.1" fill="none" stroke="#231815" stroke-width="0.6"/>
<circle cx="237" cy="364.4" r="1.1" fill="none" stroke="#231815" stroke-width="0.6"/>
<circle cx="340.4" cy="345.3" r="1.1" fill="none" stroke="#231815" stroke-width="0.6"/>
<circle cx="340.4" cy="364.4" r="1.1" fill="none" stroke="#231815" stroke-width="0.6"/>
<circle cx="358.7" cy="356.7" r="2.6" fill="none" stroke="#231815" stroke-width="0.6"/>
<circle cx="358.7" cy="356.7" r="1.4" fill="none" stroke="#231815" stroke-width="0.5"/>
<circle cx="351.7" cy="370.4" r="2.6" fill="none" stroke="#231815" stroke-width="0.6"/>
<circle cx="351.7" cy="370.4" r="1.4" fill="none" stroke="#231815" stroke-width="0.5"/>
<circle cx="357.8" cy="348.5" r="2.4" fill="#ddd" stroke="#231815" stroke-width="0.7"/>
<circle cx="363.3" cy="348.3" r="2.4" fill="none" stroke="#231815" stroke-width="0.6"/>
<rect x="357.3" y="333" width="2.5" height="6" fill="none" stroke="#231815" stroke-width="0.6" />
<line x1="282" y1="374.2" x2="296" y2="374.2" stroke="#231815" stroke-width="1.2" />
<line x1="448.3" y1="321.3" x2="448.3" y2="336" stroke="#231815" stroke-width="0.6" />
<line x1="739.3" y1="321.3" x2="739.3" y2="342.3" stroke="#231815" stroke-width="0.6" />
<line x1="448.3" y1="323" x2="739.3" y2="323" stroke="#231815" stroke-width="0.6" />
<polygon points="448.3,323 453.8,321.75 453.8,324.25" fill="#231815"/>
<polygon points="739.3,323 733.8,321.75 733.8,324.25" fill="#231815"/>
<text x="592.4" y="319.8" font-size="16" fill="#231815" text-anchor="start" font-family="Liberation Sans" font-weight="normal" textLength="9.5" lengthAdjust="spacingAndGlyphs" >L</text>
<rect x="448.3" y="336" width="20.4" height="38.7" fill="#f2f2f2" stroke="#231815" stroke-width="1.1" />
<line x1="462" y1="336" x2="462" y2="374.7" stroke="#231815" stroke-width="0.6" />
<line x1="463.3" y1="336" x2="463.3" y2="374.7" stroke="#231815" stroke-width="0.6" />
<path d="M468.7,374.7 V336.7 H474 L477,340 V342.3" fill="#f2f2f2" stroke="#231815" stroke-width="0.7" />
<rect x="468.7" y="342.3" width="270.6" height="32.4" fill="#f3f3f3" stroke="#231815" stroke-width="1.0" />
<line x1="475.3" y1="342.3" x2="475.3" y2="374.7" stroke="#231815" stroke-width="0.8" />
<line x1="732.7" y1="342.3" x2="732.7" y2="374.7" stroke="#231815" stroke-width="0.8" />
<line x1="475.3" y1="352" x2="732.7" y2="352" stroke="#231815" stroke-width="0.5" />
<line x1="475.3" y1="354.7" x2="732.7" y2="354.7" stroke="#231815" stroke-width="0.5" />
<rect x="475.3" y="358.4" width="257.4" height="3.8" fill="#8a8080"/>
<line x1="475.3" y1="362.9" x2="732.7" y2="362.9" stroke="#231815" stroke-width="1.0" />
<line x1="475.3" y1="368.0" x2="732.7" y2="368.0" stroke="#231815" stroke-width="0.9" />
<line x1="475.3" y1="370.7" x2="732.7" y2="370.7" stroke="#231815" stroke-width="0.9" />
<line x1="475.3" y1="372.7" x2="732.7" y2="372.7" stroke="#231815" stroke-width="0.9" />
<line x1="468.7" y1="374.7" x2="739.3" y2="374.7" stroke="#231815" stroke-width="1.2" />
<rect x="472.5" y="358.5" width="2.8" height="3.6" fill="#888" stroke="#231815" stroke-width="0" />
<rect x="732.7" y="358.5" width="2.8" height="3.6" fill="#888" stroke="#231815" stroke-width="0" />
<line x1="475.3" y1="342.3" x2="739.3" y2="342.3" stroke="#231815" stroke-width="1.6" />
<path d="M732.7,342.3 V340 Q736,338.5 739.3,340 V342.3" fill="none" stroke="#231815" stroke-width="1.0" />
<rect x="481.3" y="333" width="103.4" height="9" fill="#f2f2f2" stroke="#231815" stroke-width="1.0" />
<line x1="505.3" y1="333" x2="505.3" y2="342" stroke="#231815" stroke-width="0.9" />
<line x1="560.7" y1="333" x2="560.7" y2="342" stroke="#231815" stroke-width="0.9" />
<line x1="505.3" y1="333.4" x2="560.7" y2="333.4" stroke="#231815" stroke-width="1.2" />
<circle cx="499.6" cy="337.6" r="0.7" fill="#231815" stroke="#231815" stroke-width="0"/>
<circle cx="566.3" cy="337.6" r="0.7" fill="#231815" stroke="#231815" stroke-width="0"/>
<circle cx="512.3" cy="338.8" r="1.6" fill="none" stroke="#231815" stroke-width="0.7"/>
<circle cx="529" cy="338.5" r="0.5" fill="#231815" stroke="#231815" stroke-width="0"/>
<circle cx="536.7" cy="338.5" r="0.5" fill="#231815" stroke="#231815" stroke-width="0"/>
<rect x="477" y="344.5" width="4" height="4.5" fill="none" stroke="#231815" stroke-width="0.6" />
<rect x="482" y="345" width="3.5" height="4" fill="none" stroke="#231815" stroke-width="0.6" />
<rect x="725" y="345.6" width="4" height="4.5" fill="none" stroke="#231815" stroke-width="0.6" />
<rect x="729.5" y="345" width="3" height="4.5" fill="none" stroke="#231815" stroke-width="0.6" />
<rect x="676.5" y="342" width="2.4" height="2.2" fill="#fff" stroke="#231815" stroke-width="0.5" />
<rect x="850.4" y="332.7" width="69.2" height="8.7" fill="#f2f2f2" stroke="#231815" stroke-width="1.2" />
<line x1="851" y1="341.4" x2="919" y2="341.4" stroke="#231815" stroke-width="1.4" />
<path d="M843.6,374.2 V342.3 H916.8 V350 Q916.8,352.3 919,352.3 H925.5 V374.2 Z" fill="#f2f2f2" stroke="#231815" stroke-width="1.0" />
<line x1="843.6" y1="374.2" x2="925.5" y2="374.2" stroke="#231815" stroke-width="1.3" />
<rect x="925.5" y="336" width="49" height="38.2" fill="#f2f2f2" stroke="#231815" stroke-width="0.8" />
<rect x="916.8" y="341.7" width="12.2" height="10.6" fill="none" stroke="#231815" stroke-width="0.8" />
<line x1="930.5" y1="336" x2="930.5" y2="374.2" stroke="#231815" stroke-width="0.6" />
<line x1="933.3" y1="336" x2="933.3" y2="374.2" stroke="#231815" stroke-width="0.6" />
<rect x="974.5" y="350" width="3.3" height="15" fill="none" stroke="#231815" stroke-width="0.6" />
<rect x="926.5" y="358.5" width="5.2" height="5" fill="#fff" stroke="#231815" stroke-width="0.6" />
<line x1="926.5" y1="358.2" x2="931.7" y2="358.2" stroke="#231815" stroke-width="1.2" />
<line x1="926.5" y1="364.5" x2="931.7" y2="364.5" stroke="#231815" stroke-width="0.9" />
<circle cx="848.4" cy="355" r="2.3" fill="none" stroke="#231815" stroke-width="0.6"/>
<circle cx="848.4" cy="355" r="1.2" fill="none" stroke="#231815" stroke-width="0.5"/>
<circle cx="920.5" cy="355.5" r="2.3" fill="none" stroke="#231815" stroke-width="0.6"/>
<circle cx="920.5" cy="355.5" r="1.2" fill="none" stroke="#231815" stroke-width="0.5"/>
<circle cx="855.2" cy="369.2" r="2.3" fill="none" stroke="#231815" stroke-width="0.6"/>
<circle cx="855.2" cy="369.2" r="1.2" fill="none" stroke="#231815" stroke-width="0.5"/>
<circle cx="913.3" cy="369.2" r="2.3" fill="none" stroke="#231815" stroke-width="0.6"/>
<circle cx="913.3" cy="369.2" r="1.2" fill="none" stroke="#231815" stroke-width="0.5"/>
<circle cx="845.2" cy="348.3" r="2.2" fill="none" stroke="#231815" stroke-width="0.6"/>
<circle cx="848.6" cy="348" r="2.2" fill="#ddd" stroke="#231815" stroke-width="0.6"/>
<circle cx="937.5" cy="339.5" r="1.5" fill="none" stroke="#231815" stroke-width="0.55"/>
<circle cx="943" cy="338" r="1.5" fill="none" stroke="#231815" stroke-width="0.55"/>
<circle cx="969" cy="339.5" r="1.5" fill="none" stroke="#231815" stroke-width="0.55"/>
<circle cx="970.5" cy="344" r="1.5" fill="none" stroke="#231815" stroke-width="0.55"/>
<circle cx="936.5" cy="363" r="1.5" fill="none" stroke="#231815" stroke-width="0.55"/>
<circle cx="937.5" cy="370.5" r="1.5" fill="none" stroke="#231815" stroke-width="0.55"/>
<circle cx="966" cy="371" r="1.5" fill="none" stroke="#231815" stroke-width="0.55"/>
<circle cx="970" cy="369.5" r="1.5" fill="none" stroke="#231815" stroke-width="0.55"/>
<path d="M934,345 Q937,347 938,348.5 M936,337 Q944,337 945,340 M962,337 Q963,341 968,342 M934,364 Q942,366 944,374 M962,374 Q963,368 974,367" fill="none" stroke="#231815" stroke-width="0.5" />
<line x1="847.6" y1="332" x2="847.6" y2="338" stroke="#231815" stroke-width="0.8" />
<line x1="921.5" y1="335" x2="921.5" y2="342" stroke="#231815" stroke-width="0.8" />
<line x1="819.5" y1="332.7" x2="850.4" y2="332.7" stroke="#231815" stroke-width="0.6" />
<line x1="819.5" y1="374.2" x2="843.6" y2="374.2" stroke="#231815" stroke-width="0.6" />
<line x1="821.3" y1="332.7" x2="821.3" y2="374.2" stroke="#231815" stroke-width="0.6" />
<polygon points="821.3,332.7 820.05,338.2 822.55,338.2" fill="#231815"/>
<polygon points="821.3,374.2 820.05,368.7 822.55,368.7" fill="#231815"/>
<text x="0" y="0" font-size="16" fill="#231815" text-anchor="middle" dominant-baseline="central" font-family="Liberation Sans" transform="translate(812.5,352.4) rotate(-90)" textLength="16.8" lengthAdjust="spacingAndGlyphs">88</text>
<line x1="850.4" y1="290.5" x2="850.4" y2="332.7" stroke="#231815" stroke-width="0.6" />
<line x1="919.6" y1="290.5" x2="919.6" y2="332.7" stroke="#231815" stroke-width="0.6" />
<line x1="854.3" y1="312" x2="854.3" y2="332.7" stroke="#231815" stroke-width="0.6" />
<line x1="916.4" y1="312" x2="916.4" y2="332.7" stroke="#231815" stroke-width="0.6" />
<line x1="850.4" y1="293.7" x2="919.6" y2="293.7" stroke="#231815" stroke-width="0.6" />
<polygon points="850.4,293.7 855.9,292.45 855.9,294.95" fill="#231815"/>
<polygon points="919.6,293.7 914.1,292.45 914.1,294.95" fill="#231815"/>
<line x1="854.3" y1="315" x2="916.4" y2="315" stroke="#231815" stroke-width="0.6" />
<polygon points="854.3,315 859.8,313.75 859.8,316.25" fill="#231815"/>
<polygon points="916.4,315 910.9,313.75 910.9,316.25" fill="#231815"/>
<text x="885.7" y="289.5" font-size="16" fill="#231815" text-anchor="middle" font-family="Liberation Sans" font-weight="normal" textLength="39.9" lengthAdjust="spacingAndGlyphs" >140.4</text>
<text x="885.9" y="311.7" font-size="16" fill="#231815" text-anchor="middle" font-family="Liberation Sans" font-weight="normal" textLength="26.5" lengthAdjust="spacingAndGlyphs" >128</text>
<line x1="843.6" y1="374.2" x2="843.6" y2="411" stroke="#231815" stroke-width="0.6" />
<line x1="925.1" y1="374.2" x2="925.1" y2="392.5" stroke="#231815" stroke-width="0.6" />
<line x1="974.3" y1="374.2" x2="974.3" y2="411" stroke="#231815" stroke-width="0.6" />
<line x1="843.6" y1="390.9" x2="925.1" y2="390.9" stroke="#231815" stroke-width="0.6" />
<polygon points="843.6,390.9 849.1,389.65 849.1,392.15" fill="#231815"/>
<polygon points="925.1,390.9 919.6,389.65 919.6,392.15" fill="#231815"/>
<line x1="843.6" y1="409.4" x2="974.3" y2="409.4" stroke="#231815" stroke-width="0.6" />
<polygon points="843.6,409.4 849.1,408.15 849.1,410.65" fill="#231815"/>
<polygon points="974.3,409.4 968.8,408.15 968.8,410.65" fill="#231815"/>
<text x="891.7" y="387.7" font-size="16" fill="#231815" text-anchor="middle" font-family="Liberation Sans" font-weight="normal" textLength="25.9" lengthAdjust="spacingAndGlyphs" >168</text>
<text x="915.4" y="406.6" font-size="16" fill="#231815" text-anchor="middle" font-family="Liberation Sans" font-weight="normal" textLength="26.8" lengthAdjust="spacingAndGlyphs" >267</text>
<rect x="449.2" y="457.5" width="19.5" height="108" fill="#f2f2f2" stroke="#231815" stroke-width="1.2" />
<line x1="462.2" y1="457.5" x2="462.2" y2="565.5" stroke="#231815" stroke-width="0.6" />
<rect x="468.7" y="436.9" width="272.8" height="81.1" fill="#f4f4f4" stroke="#231815" stroke-width="1.2" />
<line x1="475.7" y1="436.9" x2="475.7" y2="518" stroke="#231815" stroke-width="0.6" />
<line x1="475.7" y1="451" x2="732.3" y2="451" stroke="#231815" stroke-width="1.2" />
<line x1="475.7" y1="505.6" x2="732.3" y2="505.6" stroke="#231815" stroke-width="1.2" />
<line x1="732.6" y1="436.9" x2="732.6" y2="518" stroke="#231815" stroke-width="0.7" />
<line x1="738.5" y1="436.9" x2="738.5" y2="518" stroke="#231815" stroke-width="1.1" />
<rect x="467.8" y="518" width="11.8" height="8" fill="#f2f2f2" stroke="#231815" stroke-width="0.7" />
<rect x="471.5" y="525.3" width="56.3" height="39.6" fill="#f2f2f2" stroke="#231815" stroke-width="1.0" />
<line x1="476.5" y1="525.3" x2="476.5" y2="564.9" stroke="#231815" stroke-width="0.5" />
<line x1="476.5" y1="527.8" x2="527.8" y2="527.8" stroke="#231815" stroke-width="0.6" />
<line x1="476.5" y1="532.4" x2="527.8" y2="532.4" stroke="#231815" stroke-width="0.6" />
<line x1="476.5" y1="557.5" x2="527.8" y2="557.5" stroke="#231815" stroke-width="0.6" />
<line x1="476.5" y1="560.6" x2="527.8" y2="560.6" stroke="#231815" stroke-width="0.6" />
<line x1="515.5" y1="527.0" x2="515.5" y2="530.0" stroke="#231815" stroke-width="1.0" />
<line x1="517.5" y1="527.0" x2="517.5" y2="530.0" stroke="#231815" stroke-width="0.6" />
<line x1="515.5" y1="533.0" x2="515.5" y2="536.0" stroke="#231815" stroke-width="1.0" />
<line x1="517.5" y1="533.0" x2="517.5" y2="536.0" stroke="#231815" stroke-width="0.6" />
<line x1="515.5" y1="554.5" x2="515.5" y2="557.5" stroke="#231815" stroke-width="1.0" />
<line x1="517.5" y1="554.5" x2="517.5" y2="557.5" stroke="#231815" stroke-width="0.6" />
<line x1="515.5" y1="561.0" x2="515.5" y2="564.0" stroke="#231815" stroke-width="1.0" />
<line x1="517.5" y1="561.0" x2="517.5" y2="564.0" stroke="#231815" stroke-width="0.6" />
<line x1="524.5" y1="525.3" x2="524.5" y2="564.9" stroke="#231815" stroke-width="0.5" />
<rect x="504" y="564.9" width="3" height="3" fill="none" stroke="#231815" stroke-width="0.5" />
<rect x="517" y="564.9" width="7" height="3" fill="none" stroke="#231815" stroke-width="0.5" />
<path d="M529,436.9 V433.5 H534 V436.9 M526,436.9 H537" fill="none" stroke="#231815" stroke-width="0.7" />
<path d="M663,436.9 V431.5 H666 V436.9 M674,436.9 V431.5 H677 V436.9 M660,436.9 H680" fill="none" stroke="#231815" stroke-width="0.7" />
<line x1="462" y1="478.4" x2="745" y2="478.4" stroke="#231815" stroke-width="0.55" stroke-dasharray="4.5,3.3"/>
<circle cx="494.0" cy="443.0" r="2.5" fill="none" stroke="#231815" stroke-width="0.6"/>
<circle cx="494.0" cy="513.3" r="2.5" fill="none" stroke="#231815" stroke-width="0.6"/>
<line x1="492.4" y1="443.0" x2="495.6" y2="443.0" stroke="#231815" stroke-width="0.5" />
<line x1="494.0" y1="441.4" x2="494.0" y2="444.6" stroke="#231815" stroke-width="0.5" />
<line x1="492.4" y1="513.3" x2="495.6" y2="513.3" stroke="#231815" stroke-width="0.5" />
<line x1="494.0" y1="511.7" x2="494.0" y2="514.9" stroke="#231815" stroke-width="0.5" />
<circle cx="592.0" cy="443.0" r="2.5" fill="none" stroke="#231815" stroke-width="0.6"/>
<circle cx="592.0" cy="513.3" r="2.5" fill="none" stroke="#231815" stroke-width="0.6"/>
<line x1="590.4" y1="443.0" x2="593.6" y2="443.0" stroke="#231815" stroke-width="0.5" />
<line x1="592.0" y1="441.4" x2="592.0" y2="444.6" stroke="#231815" stroke-width="0.5" />
<line x1="590.4" y1="513.3" x2="593.6" y2="513.3" stroke="#231815" stroke-width="0.5" />
<line x1="592.0" y1="511.7" x2="592.0" y2="514.9" stroke="#231815" stroke-width="0.5" />
<circle cx="690.0" cy="443.0" r="2.5" fill="none" stroke="#231815" stroke-width="0.6"/>
<circle cx="690.0" cy="513.3" r="2.5" fill="none" stroke="#231815" stroke-width="0.6"/>
<line x1="688.4" y1="443.0" x2="691.6" y2="443.0" stroke="#231815" stroke-width="0.5" />
<line x1="690.0" y1="441.4" x2="690.0" y2="444.6" stroke="#231815" stroke-width="0.5" />
<line x1="688.4" y1="513.3" x2="691.6" y2="513.3" stroke="#231815" stroke-width="0.5" />
<line x1="690.0" y1="511.7" x2="690.0" y2="514.9" stroke="#231815" stroke-width="0.5" />
<circle cx="714.4" cy="443.0" r="2.5" fill="none" stroke="#231815" stroke-width="0.6"/>
<circle cx="714.4" cy="513.3" r="2.5" fill="none" stroke="#231815" stroke-width="0.6"/>
<line x1="712.8" y1="443.0" x2="716.0" y2="443.0" stroke="#231815" stroke-width="0.5" />
<line x1="714.4" y1="441.4" x2="714.4" y2="444.6" stroke="#231815" stroke-width="0.5" />
<line x1="712.8" y1="513.3" x2="716.0" y2="513.3" stroke="#231815" stroke-width="0.5" />
<line x1="714.4" y1="511.7" x2="714.4" y2="514.9" stroke="#231815" stroke-width="0.5" />
<circle cx="494.0" cy="478.5" r="2.0" fill="#fff" stroke="#231815" stroke-width="0.7"/>
<circle cx="592.0" cy="478.5" r="2.0" fill="#fff" stroke="#231815" stroke-width="0.7"/>
<circle cx="714.4" cy="478.5" r="4.4" fill="#fff" stroke="#231815" stroke-width="0.8"/>
<line x1="485" y1="443" x2="505" y2="443" stroke="#231815" stroke-width="0.4" />
<line x1="485" y1="513.3" x2="505" y2="513.3" stroke="#231815" stroke-width="0.4" />
<line x1="449.2" y1="411.5" x2="449.2" y2="457.5" stroke="#231815" stroke-width="0.6" />
<line x1="493.4" y1="411.5" x2="493.4" y2="443" stroke="#231815" stroke-width="0.6" />
<line x1="493.4" y1="480.5" x2="493.4" y2="587.3" stroke="#231815" stroke-width="0.6" />
<line x1="592.0" y1="480.5" x2="592.0" y2="587.3" stroke="#231815" stroke-width="0.6" />
<line x1="690.6" y1="411" x2="690.6" y2="430" stroke="#231815" stroke-width="0.6" />
<line x1="714.4" y1="411" x2="714.4" y2="587.3" stroke="#231815" stroke-width="0.6" />
<line x1="740.0" y1="411" x2="740.0" y2="436.9" stroke="#231815" stroke-width="0.6" />
<line x1="449.2" y1="565.5" x2="449.2" y2="587.3" stroke="#231815" stroke-width="0.6" />
<line x1="449.2" y1="414.7" x2="740" y2="414.7" stroke="#231815" stroke-width="0.6" />
<polygon points="449.2,414.7 454.7,413.45 454.7,415.95" fill="#231815"/>
<polygon points="493.4,414.7 487.9,413.45 487.9,415.95" fill="#231815"/>
<polygon points="493.4,414.7 498.9,413.45 498.9,415.95" fill="#231815"/>
<polygon points="690.6,414.7 685.1,413.45 685.1,415.95" fill="#231815"/>
<polygon points="690.6,414.7 696.1,413.45 696.1,415.95" fill="#231815"/>
<polygon points="714.4,414.7 708.9,413.45 708.9,415.95" fill="#231815"/>
<polygon points="714.4,414.7 719.9,413.45 719.9,415.95" fill="#231815"/>
<polygon points="740,414.7 734.5,413.45 734.5,415.95" fill="#231815"/>
<text x="465.3" y="411.8" font-size="16" fill="#231815" text-anchor="start" font-family="Liberation Sans" font-weight="normal" textLength="16.1" lengthAdjust="spacingAndGlyphs" >91</text>
<text x="576.5" y="411.6" font-size="16" fill="#231815" text-anchor="start" font-family="Liberation Sans" font-weight="normal" textLength="47.8" lengthAdjust="spacingAndGlyphs" >M*200</text>
<text x="696.8" y="411.6" font-size="16" fill="#231815" text-anchor="start" font-family="Liberation Sans" font-weight="normal" textLength="10.8" lengthAdjust="spacingAndGlyphs" >A</text>
<text x="720.0" y="411.6" font-size="16" fill="#231815" text-anchor="start" font-family="Liberation Sans" font-weight="normal" textLength="16.9" lengthAdjust="spacingAndGlyphs" >51</text>
<line x1="449.2" y1="585.8" x2="714.4" y2="585.8" stroke="#231815" stroke-width="0.6" />
<polygon points="449.2,585.8 454.7,584.55 454.7,587.05" fill="#231815"/>
<polygon points="493.4,585.8 487.9,584.55 487.9,587.05" fill="#231815"/>
<polygon points="493.4,585.8 498.9,584.55 498.9,587.05" fill="#231815"/>
<polygon points="592,585.8 586.5,584.55 586.5,587.05" fill="#231815"/>
<polygon points="592,585.8 597.5,584.55 597.5,587.05" fill="#231815"/>
<polygon points="714.4,585.8 708.9,584.55 708.9,587.05" fill="#231815"/>
<text x="467.4" y="582.7" font-size="16" fill="#231815" text-anchor="start" font-family="Liberation Sans" font-weight="normal" textLength="16.6" lengthAdjust="spacingAndGlyphs" >91</text>
<text x="513.4" y="582.7" font-size="16" fill="#231815" text-anchor="start" font-family="Liberation Sans" font-weight="normal" textLength="70.1" lengthAdjust="spacingAndGlyphs" >200±0.02</text>
<text x="651.5" y="582.7" font-size="16" fill="#231815" text-anchor="start" font-family="Liberation Sans" font-weight="normal" textLength="9.9" lengthAdjust="spacingAndGlyphs" >P</text>
<line x1="414.7" y1="442.0" x2="504" y2="442.0" stroke="#231815" stroke-width="0.6" />
<line x1="414.7" y1="513.4" x2="504" y2="513.4" stroke="#231815" stroke-width="0.6" />
<line x1="417.3" y1="442.0" x2="417.3" y2="513.4" stroke="#231815" stroke-width="0.6" />
<polygon points="417.3,442.0 416.05,447.5 418.55,447.5" fill="#231815"/>
<polygon points="417.3,513.4 416.05,507.9 418.55,507.9" fill="#231815"/>
<text x="0" y="0" font-size="16" fill="#231815" text-anchor="middle" dominant-baseline="central" font-family="Liberation Sans" transform="translate(409.3,475.7) rotate(-90)" textLength="26" lengthAdjust="spacingAndGlyphs">147</text>
<text x="690.6" y="434.6" font-size="16" fill="#231815" text-anchor="start" font-family="Liberation Sans" font-weight="normal" textLength="11.4" lengthAdjust="spacingAndGlyphs" >C</text>
<line x1="703" y1="430" x2="714.4" y2="430" stroke="#231815" stroke-width="0.6" />
<polygon points="714.4,430 708.9,428.75 708.9,431.25" fill="#231815"/>
<text x="690.6" y="530.3" font-size="16" fill="#231815" text-anchor="start" font-family="Liberation Sans" font-weight="normal" textLength="11.4" lengthAdjust="spacingAndGlyphs" >C</text>
<line x1="703" y1="524.8" x2="714.4" y2="524.8" stroke="#231815" stroke-width="0.6" />
<polygon points="714.4,524.8 708.9,523.55 708.9,526.05" fill="#231815"/>
<text x="695.3" y="470.0" font-size="16" fill="#231815" text-anchor="start" font-family="Liberation Sans" font-weight="normal" textLength="10.7" lengthAdjust="spacingAndGlyphs" >B</text>
<line x1="704" y1="472" x2="711.5" y2="476.5" stroke="#231815" stroke-width="0.6" />
<line x1="488.7" y1="431.6" x2="508.7" y2="470.8" stroke="#231815" stroke-width="0.6" />
<line x1="508.7" y1="470.8" x2="655.8" y2="470.8" stroke="#777" stroke-width="0.7" />
<text x="509.9" y="467.8" font-size="16.8" fill="#231815" text-anchor="start" font-family="Liberation Sans" font-weight="normal" textLength="48.1" lengthAdjust="spacingAndGlyphs" >N-M10</text>
<path d="M562.3,456.0 H573.6999999999999 M568.0,456.0 V467.8 M562.756,458.95 L568.0,467.8 L573.2439999999999,458.95" fill="none" stroke="#231815" stroke-width="0.75" />
<text x="575.8" y="467.8" font-size="16.8" fill="#231815" text-anchor="start" font-family="Liberation Sans" font-weight="normal" textLength="63.7" lengthAdjust="spacingAndGlyphs" >11.5+Φ9</text>
<text x="639.5" y="467.3" font-size="16" fill="#231815" text-anchor="start" font-family="Liberation Sans" font-weight="normal" textLength="16" lengthAdjust="spacingAndGlyphs" >通</text>
<line x1="592" y1="478.5" x2="639.8" y2="566.4" stroke="#231815" stroke-width="0.6" />
<line x1="639.8" y1="566.4" x2="686" y2="566.4" stroke="#777" stroke-width="0.7" />
<text x="641.5" y="562.75" font-size="16.6" fill="#231815" text-anchor="start" font-family="Liberation Sans" font-weight="normal" textLength="59.6" lengthAdjust="spacingAndGlyphs" >2-Φ8H7</text>
<path d="M702.9,552.4 H712.1 M707.5,552.4 V563.4 M703.268,555.15 L707.5,563.4 L711.732,555.15" fill="none" stroke="#231815" stroke-width="0.75" />
<text x="715.8" y="562.75" font-size="16.6" fill="#231815" text-anchor="start" font-family="Liberation Sans" font-weight="normal" textLength="15.6" lengthAdjust="spacingAndGlyphs" >13</text>
<circle cx="296.2" cy="496.2" r="21.7" fill="#f2f2f2" stroke="#231815" stroke-width="1.1"/>
<ellipse cx="296.2" cy="496.2" rx="12.0" ry="10.2" fill="#f2f2f2" stroke="#231815" stroke-width="0.9"/>
<line x1="284.6" y1="450.9" x2="284.6" y2="496.2" stroke="#231815" stroke-width="0.6" />
<line x1="307.9" y1="450.9" x2="307.9" y2="496.2" stroke="#231815" stroke-width="0.6" />
<line x1="284.6" y1="453.3" x2="307.9" y2="453.3" stroke="#231815" stroke-width="0.6" />
<polygon points="284.6,453.3 290.1,452.05 290.1,454.55" fill="#231815"/>
<polygon points="307.9,453.3 302.4,452.05 302.4,454.55" fill="#231815"/>
<text x="291.0" y="449.3" font-size="16" fill="#231815" text-anchor="start" font-family="Liberation Sans" font-weight="normal" textLength="9.4" lengthAdjust="spacingAndGlyphs" >9</text>
<line x1="258" y1="486.2" x2="296.2" y2="486.2" stroke="#231815" stroke-width="0.6" />
<line x1="258" y1="506.3" x2="296.2" y2="506.3" stroke="#231815" stroke-width="0.6" />
<line x1="260.5" y1="486.2" x2="260.5" y2="506.3" stroke="#231815" stroke-width="0.6" />
<polygon points="260.5,486.2 259.25,491.7 261.75,491.7" fill="#231815"/>
<polygon points="260.5,506.3 259.25,500.8 261.75,500.8" fill="#231815"/>
<line x1="294.6" y1="485.0" x2="294.6" y2="507.4" stroke="#231815" stroke-width="0.6" stroke-dasharray="3.4,2.4,7.5,2.4,3.4"/>
<line x1="297.7" y1="485.0" x2="297.7" y2="507.4" stroke="#231815" stroke-width="0.6" stroke-dasharray="3.4,2.4,7.5,2.4,3.4"/>
<line x1="283.3" y1="496.2" x2="309.1" y2="496.2" stroke="#231815" stroke-width="0.7" stroke-dasharray="9,1.5,15"/>
<g transform="translate(253.3,526.4) rotate(-90)">
<text x="0" y="0" font-size="17.5" fill="#231815" text-anchor="start" font-family="Liberation Sans" font-weight="normal" textLength="27.4" lengthAdjust="spacingAndGlyphs" >8H7</text>
<path d="M28.1,-12.9 H37.8 M32.95,-12.9 V0.0 M28.488000000000003,-9.675 L32.95,0.0 L37.412,-9.675" fill="none" stroke="#231815" stroke-width="0.75" />
<text x="39.4" y="0" font-size="17.5" fill="#231815" text-anchor="start" font-family="Liberation Sans" font-weight="normal" textLength="19.2" lengthAdjust="spacingAndGlyphs" >13</text>
</g>
<text x="257.3" y="546.1" font-size="16.5" fill="#231815" text-anchor="start" font-family="Liberation Sans" font-weight="normal" textLength="78.7" lengthAdjust="spacingAndGlyphs" >局部放大B</text>
<path d="M850.2,515.7 V491.8 H862.5 V503 Q862.5,507.5 867,507.5 H920.4 Q924.4,507.5 924.4,503 V491.8 H937.2 V515.7 Z" fill="url(#hatch)" stroke="#231815" stroke-width="0.9" />
<rect x="852.8" y="492" width="5.2" height="23.5" fill="#fff"/>
<line x1="852.8" y1="492" x2="852.8" y2="515.7" stroke="#231815" stroke-width="0.6" />
<line x1="858" y1="492" x2="858" y2="515.7" stroke="#231815" stroke-width="0.6" />
<rect x="890.9" y="509" width="5.1" height="6.3" fill="#fff"/>
<line x1="890.9" y1="509" x2="890.9" y2="515.7" stroke="#231815" stroke-width="0.6" />
<line x1="896" y1="509" x2="896" y2="515.7" stroke="#231815" stroke-width="0.6" />
<rect x="929.5" y="492" width="4.8" height="23.5" fill="#fff"/>
<line x1="929.5" y1="492" x2="929.5" y2="515.7" stroke="#231815" stroke-width="0.6" />
<line x1="934.3" y1="492" x2="934.3" y2="515.7" stroke="#231815" stroke-width="0.6" />
<path d="M850.2,495 Q851,491.8 855,491.8 H858.3 Q862.3,491.8 863.2,495" fill="none" stroke="#231815" stroke-width="0.8" />
<path d="M924.6,495 Q925.4,491.8 929.4,491.8 H932.8 Q936.8,491.8 937.6,495" fill="none" stroke="#231815" stroke-width="0.8" />
<line x1="850.2" y1="515.7" x2="937.6" y2="515.7" stroke="#231815" stroke-width="1.2" />
<line x1="852" y1="455" x2="852" y2="491.8" stroke="#231815" stroke-width="0.6" />
<line x1="859.7" y1="455" x2="859.7" y2="491.8" stroke="#231815" stroke-width="0.6" />
<line x1="853.7" y1="473" x2="853.7" y2="491.8" stroke="#231815" stroke-width="0.6" />
<line x1="858" y1="473" x2="858" y2="491.8" stroke="#231815" stroke-width="0.6" />
<line x1="822.5" y1="456.8" x2="869.2" y2="456.8" stroke="#231815" stroke-width="0.6" />
<polygon points="852,456.8 846.5,455.55 846.5,458.05" fill="#231815"/>
<polygon points="859.7,456.8 865.2,455.55 865.2,458.05" fill="#231815"/>
<line x1="825" y1="475.3" x2="868.4" y2="475.3" stroke="#231815" stroke-width="0.6" />
<polygon points="853.7,475.3 848.2,474.05 848.2,476.55" fill="#231815"/>
<polygon points="858,475.3 863.5,474.05 863.5,476.55" fill="#231815"/>
<text x="820" y="452.5" font-size="16" fill="#231815" text-anchor="start" font-family="Liberation Sans" font-weight="normal" textLength="31" lengthAdjust="spacingAndGlyphs" >Φ14</text>
<text x="825" y="471.5" font-size="16" fill="#231815" text-anchor="start" font-family="Liberation Sans" font-weight="normal" textLength="21.7" lengthAdjust="spacingAndGlyphs" >Φ9</text>
<line x1="825" y1="495.4" x2="850.2" y2="495.4" stroke="#231815" stroke-width="0.6" />
<line x1="825" y1="515.7" x2="850.2" y2="515.7" stroke="#231815" stroke-width="0.6" />
<line x1="826.8" y1="495.4" x2="826.8" y2="515.7" stroke="#231815" stroke-width="0.6" />
<polygon points="826.8,495.4 825.55,500.9 828.05,500.9" fill="#231815"/>
<polygon points="826.8,515.7 825.55,510.20000000000005 828.05,510.20000000000005" fill="#231815"/>
<text x="0" y="0" font-size="16" fill="#231815" text-anchor="middle" dominant-baseline="central" font-family="Liberation Sans" transform="translate(816.8,505.2) rotate(-90)" textLength="15.5" lengthAdjust="spacingAndGlyphs">41</text>
<line x1="842.4" y1="499" x2="842.4" y2="532.1" stroke="#231815" stroke-width="0.6" />
<line x1="840" y1="507" x2="852" y2="507" stroke="#231815" stroke-width="0.6" />
<polygon points="842.4,507 841.15,501.5 843.65,501.5" fill="#231815"/>
<polygon points="842.4,515.7 841.15,521.2 843.65,521.2" fill="#231815"/>
<line x1="825" y1="532.1" x2="842.4" y2="532.1" stroke="#231815" stroke-width="0.6" />
<text x="825" y="529.5" font-size="16" fill="#231815" text-anchor="start" font-family="Liberation Sans" font-weight="normal" textLength="16.5" lengthAdjust="spacingAndGlyphs" >13</text>
<line x1="948" y1="500.1" x2="966" y2="500.1" stroke="#231815" stroke-width="0.6" />
<line x1="948.5" y1="502.7" x2="948.5" y2="526" stroke="#231815" stroke-width="0.6" />
<line x1="937.6" y1="507.2" x2="950" y2="507.2" stroke="#231815" stroke-width="0.6" />
<polygon points="948.5,507.2 947.25,512.7 949.75,512.7" fill="#231815"/>
<polygon points="948.5,515.7 947.25,510.20000000000005 949.75,510.20000000000005" fill="#231815"/>
<text x="943.6" y="497.5" font-size="16" fill="#231815" text-anchor="start" font-family="Liberation Sans" font-weight="normal" textLength="29.4" lengthAdjust="spacingAndGlyphs" >11.5</text>
<line x1="929" y1="515.7" x2="929" y2="537.3" stroke="#231815" stroke-width="0.6" />
<line x1="934" y1="515.7" x2="934" y2="537.3" stroke="#231815" stroke-width="0.6" />
<line x1="894.3" y1="534.2" x2="944.5" y2="534.2" stroke="#231815" stroke-width="0.6" />
<polygon points="929,534.2 923.5,532.95 923.5,535.45" fill="#231815"/>
<polygon points="934,534.2 939.5,532.95 939.5,535.45" fill="#231815"/>
<text x="894.3" y="532.1" font-size="16" fill="#231815" text-anchor="start" font-family="Liberation Sans" font-weight="normal" textLength="30.3" lengthAdjust="spacingAndGlyphs" >M10</text>
<text x="858.5" y="560.7" font-size="16" fill="#231815" text-anchor="start" font-family="Liberation Sans" font-weight="normal" textLength="60.9" lengthAdjust="spacingAndGlyphs" >C-CViev</text>
</svg>
</body></html>
